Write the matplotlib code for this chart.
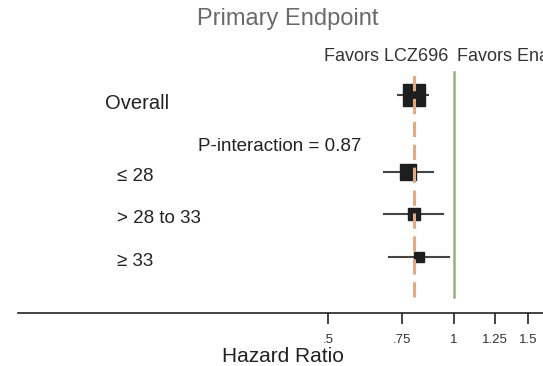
import matplotlib
matplotlib.use("Agg")
import matplotlib.pyplot as plt
from matplotlib.transforms import blended_transform_factory

plt.rcParams['font.family'] = ['Liberation Sans', 'DejaVu Sans']

# forest plot data (hazard ratio with 95% CI)
groups = ['Overall', '≤ 28', '> 28 to 33', '≥ 33']
hr = [0.80, 0.777, 0.80, 0.825]
ci_low = [0.735, 0.68, 0.68, 0.70]
ci_high = [0.867, 0.89, 0.94, 0.97]
box_size = [16.5, 11, 8.5, 7.5]
row_y = [3.8, 2.0, 1.0, 0.0]

overall_hr = 0.80
p_interaction = 0.87
xticks = [0.5, 0.75, 1, 1.25, 1.5]
xtick_labels = ['.5', '.75', '1', '1.25', '1.5']

W, H = 543, 366
fig = plt.figure(figsize=(W / 100, H / 100), dpi=100)
ax = fig.add_axes([18 / W, 53 / H, 525 / W, 273 / H])
ax.set_xscale('log')
ax.set_xlim(0.091, 1.63)
ax.set_ylim(-1.32, 5.1)

for s in ['top', 'right', 'left']:
    ax.spines[s].set_visible(False)
ax.spines['bottom'].set_linewidth(1.2)
ax.spines['bottom'].set_color('#222222')
ax.set_yticks([])
ax.set_xticks(xticks)
ax.set_xticklabels(xtick_labels, fontsize=9.5, color='#333333')
ax.xaxis.set_minor_locator(matplotlib.ticker.NullLocator())
ax.tick_params(axis='x', length=8, width=1.2, color='#222222', pad=7)

# reference lines: overall estimate and no effect
ax.plot([overall_hr, overall_hr], [-0.94, 4.35], color='#F4A668', lw=2.2,
        dashes=(5, 2.5), zorder=3)
ax.plot([1, 1], [-0.94, 4.35], color='#93B27A', lw=1.8, zorder=1)

# row labels placed in pixel x, data y
lab = blended_transform_factory(fig.transFigure, ax.transData)

for i in range(len(groups)):
    ax.plot([ci_low[i], ci_high[i]], [row_y[i], row_y[i]], color='#444444', lw=1.5, zorder=1)
    ax.plot(hr[i], row_y[i], marker='s', ms=box_size[i], color='#1e1e1e', zorder=2)
    if i == 0:
        ax.text(105 / W, row_y[i] - 0.2, groups[i], fontsize=14.5, va='center', ha='left',
                color='#222222', transform=lab)
    else:
        ax.text(117 / W, row_y[i] - 0.1, groups[i], fontsize=13.5, va='center', ha='left',
                color='#222222', transform=lab)

ax.text(198 / W, 2.6, 'P-interaction = %.2f' % p_interaction, fontsize=13.5,
        va='center', ha='left', color='#222222', transform=lab)

ax.text(448 / W, 4.72, 'Favors LCZ696', fontsize=13, ha='right', va='center',
        color='#333333', transform=lab)
ax.text(457 / W, 4.72, 'Favors Enalapril', fontsize=13, ha='left', va='center',
        color='#333333', transform=lab, clip_on=False)

fig.text(288 / W, 1 - 19 / H, 'Primary Endpoint', fontsize=17, ha='center', va='center',
         color='#6a6a6a')
fig.text(283 / W, 1 - 357 / H, 'Hazard Ratio', fontsize=15, ha='center', va='center',
         color='#222222')

fig.savefig('out.png', dpi=100)
